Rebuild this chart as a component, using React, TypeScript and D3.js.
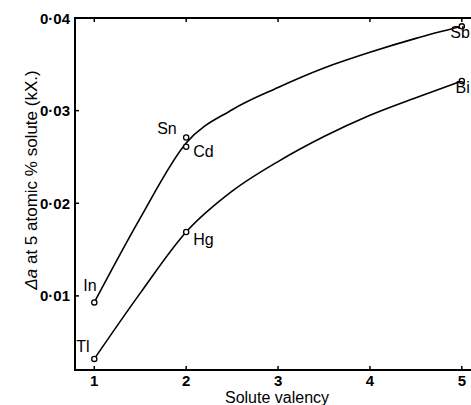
import React from "react";
import * as d3 from "d3";

// Measured solutes
const solutes = ["Tl", "In", "Hg", "Cd", "Sn", "Bi", "Sb"];
const valencies = [1, 1, 2, 2, 2, 5, 5];
const deltaA = [0.0032, 0.0093, 0.0169, 0.0261, 0.0271, 0.0332, 0.0391];

// Hand-drawn smooth curves
const curveX = [1, 1.5, 2, 2.5, 3, 3.5, 4, 4.5, 5];
const upperCurveY = [0.0093, 0.0184, 0.0265, 0.0301, 0.0325, 0.0346, 0.0363, 0.0378, 0.0391];
const lowerCurveY = [0.0032, 0.0103, 0.0169, 0.0213, 0.0245, 0.0272, 0.0295, 0.0314, 0.0332];

const xTicks = [1, 2, 3, 4, 5];
const yTicks = [0.01, 0.02, 0.03, 0.04];
const xTitle = "Solute valency";

const W = 471;
const H = 405;

// label placement (style)
const labelPos: Record<string, { dx: number; dy: number; anchor: string }> = {
  Tl: { dx: -18, dy: -7, anchor: "start" },
  In: { dx: -11, dy: -11, anchor: "start" },
  Hg: { dx: 7, dy: 13, anchor: "start" },
  Cd: { dx: 7, dy: 10, anchor: "start" },
  Sn: { dx: -29, dy: -3, anchor: "start" },
  Bi: { dx: 8, dy: 12, anchor: "end" },
  Sb: { dx: 8, dy: 12, anchor: "end" },
};

export default function App() {
  const x = d3.scaleLinear().domain([0.79, 5.1]).range([75, 471]);
  const y = d3.scaleLinear().domain([0.002, 0.04]).range([370, 18]);
  const line = d3
    .line<[number, number]>()
    .x((d) => x(d[0]))
    .y((d) => y(d[1]))
    .curve(d3.curveMonotoneX);
  const upper = line(curveX.map((v, i) => [v, upperCurveY[i]]));
  const lower = line(curveX.map((v, i) => [v, lowerCurveY[i]]));
  const fmt = (v: number) => v.toFixed(2).replace(".", "·");
  const font = "'Liberation Sans', Arial, sans-serif";
  return (
    <svg
      width={W}
      height={H}
      style={{ position: "absolute", left: 0, top: 0, background: "#fff" }}
      fontFamily={font}
    >
      <rect width={W} height={H} fill="#fff" />
      {/* frame */}
      <path
        d={`M${x(5.1)},${y(0.04)}H${x(0.79)}V${y(0.002)}H${x(5.1)}`}
        fill="none"
        stroke="#000"
        strokeWidth={2}
      />
      {/* x ticks bottom & top */}
      {xTicks.map((t) => (
        <g key={"x" + t}>
          <line x1={x(t)} x2={x(t)} y1={y(0.002)} y2={y(0.002) - 4} stroke="#000" strokeWidth={1.5} />
          <line x1={x(t)} x2={x(t)} y1={y(0.04)} y2={y(0.04) + 4} stroke="#000" strokeWidth={1.5} />
          <text
            x={x(t)}
            y={y(0.002) + 16}
            textAnchor="middle"
            fontSize={15}
            fontWeight="bold"
          >
            {t}
          </text>
        </g>
      ))}
      {/* y ticks */}
      {yTicks.map((t) => (
        <g key={"y" + t}>
          <line x1={x(0.79)} x2={x(0.79) + 4} y1={y(t)} y2={y(t)} stroke="#000" strokeWidth={1.5} />
          <text x={70} y={y(t) + 5.5} textAnchor="end" fontSize={15} fontWeight="bold">
            {fmt(t)}
          </text>
        </g>
      ))}
      {/* curves */}
      <path d={upper ?? ""} fill="none" stroke="#000" strokeWidth={1.6} />
      <path d={lower ?? ""} fill="none" stroke="#000" strokeWidth={1.6} />
      {/* points and labels */}
      {solutes.map((s, i) => {
        const cx = x(valencies[i]);
        const cy = y(deltaA[i]);
        const p = labelPos[s];
        return (
          <g key={s}>
            <circle cx={cx} cy={cy} r={2.6} fill="#fff" stroke="#000" strokeWidth={1.3} />
            <text x={cx + p.dx} y={cy + p.dy} textAnchor={p.anchor} fontSize={16}>
              {s}
            </text>
          </g>
        );
      })}
      {/* axis titles */}
      <text x={277} y={403} textAnchor="middle" fontSize={16}>
        {xTitle}
      </text>
      <text
        transform={`translate(37,180) rotate(-90)`}
        textAnchor="middle"
        fontSize={17}
      >
        <tspan fontStyle="italic">Δa</tspan>
        <tspan> at 5 atomic % solute (kX.)</tspan>
      </text>
    </svg>
  );
}
